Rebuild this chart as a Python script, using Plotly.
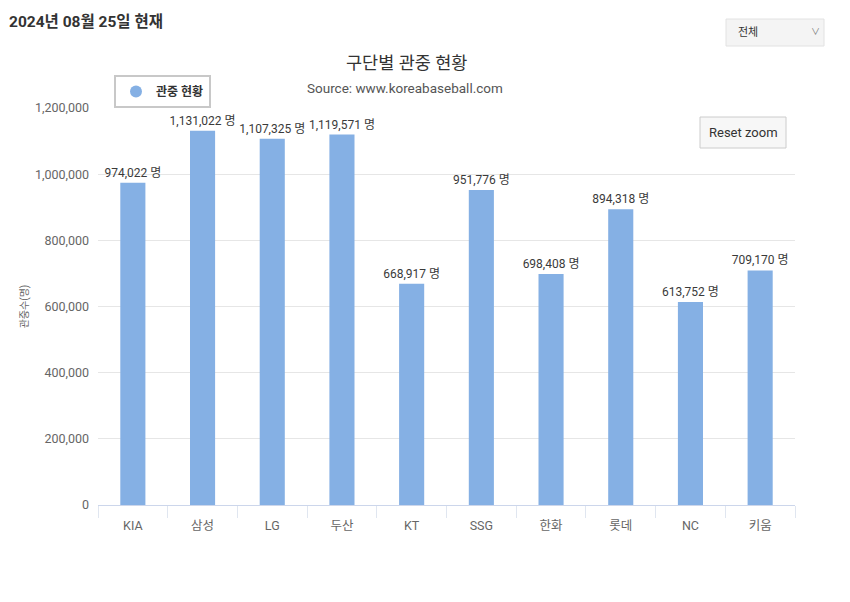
import plotly.graph_objects as go

teams = ["KIA", "삼성", "LG", "두산", "KT", "SSG", "한화", "롯데", "NC", "키움"]
attendance = [974022, 1131022, 1107325, 1119571, 668917, 951776, 698408, 894318, 613752, 709170]
y_ticks = [0, 200000, 400000, 600000, 800000, 1000000, 1200000]
y_tick_labels = ["0", "200,000", "400,000", "600,000", "800,000", "1,000,000", "1,200,000"]
series_name = "관중 현황"

# page has an 8px body margin; figure coordinates are page coordinates minus 8
OFF = 8
W, H = 850 - OFF, 602 - OFF
L, R, T, B = 98 - OFF, 795 - OFF, 108 - OFF, 505 - OFF
KFONT = "Roboto, Noto Sans CJK KR"


def px(x):
    return (x - OFF - L) / (R - L)


def py(y):
    return (B - (y - OFF)) / (B - T)


labels = [f"{v:,} 명" for v in attendance]

fig = go.Figure()
fig.add_trace(go.Bar(
    x=teams, y=attendance, width=0.36,
    marker=dict(color="#85b0e4", line=dict(width=0)),
    text=labels, textposition="outside", cliponaxis=False, constraintext="none",
    textfont=dict(family=KFONT, size=12, color="#3a3a3a"),
    showlegend=False, hoverinfo="x+y",
))
fig.add_trace(go.Scatter(
    x=[None], y=[None], mode="markers", name=series_name,
    marker=dict(color="#85b0e4", size=11, symbol="circle"),
    showlegend=True,
))

shapes = [
    dict(type="rect", xref="paper", yref="paper", x0=px(726), x1=px(824), y0=py(46), y1=py(19),
         fillcolor="#f4f4f4", line=dict(color="#e2e2e2", width=1), layer="below"),
    dict(type="rect", xref="paper", yref="paper", x0=px(700), x1=px(786), y0=py(148), y1=py(117),
         fillcolor="#f7f7f7", line=dict(color="#cccccc", width=1)),
]

annotations = [
    dict(text="<b>2024년 08월 25일 현재</b>", xref="paper", yref="paper", x=px(7), y=py(22),
         xanchor="left", yanchor="middle", showarrow=False,
         font=dict(family=KFONT, size=15.5, color="#333333")),
    dict(text="전체", xref="paper", yref="paper", x=px(736), y=py(32),
         xanchor="left", yanchor="middle", showarrow=False,
         font=dict(family=KFONT, size=11, color="#333333")),
    dict(text="∨", xref="paper", yref="paper", x=px(815), y=py(32),
         xanchor="center", yanchor="middle", showarrow=False,
         font=dict(family=KFONT, size=9, color="#777777")),
    dict(text="구단별 관중 현황", xref="paper", yref="paper", x=px(406), y=py(63),
         xanchor="center", yanchor="middle", showarrow=False,
         font=dict(family=KFONT, size=17.5, color="#333333")),
    dict(text="Source: www.koreabaseball.com", xref="paper", yref="paper", x=px(405), y=py(88),
         xanchor="center", yanchor="middle", showarrow=False,
         font=dict(family=KFONT, size=13.5, color="#555555")),
    dict(text="Reset zoom", xref="paper", yref="paper", x=px(743), y=py(133),
         xanchor="center", yanchor="middle", showarrow=False,
         font=dict(family="Roboto", size=13, color="#333333")),
]

fig.update_layout(
    width=W, height=H,
    margin=dict(l=L, r=W - R, t=T, b=H - B, pad=0),
    paper_bgcolor="white", plot_bgcolor="white",
    shapes=shapes, annotations=annotations,
    legend=dict(
        x=px(114), y=py(75), xanchor="left", yanchor="top",
        bordercolor="#c8c8c8", borderwidth=2, bgcolor="white",
        font=dict(family=KFONT, size=12, color="#333333", weight="bold"),
        itemsizing="constant", itemwidth=30,
    ),
    xaxis=dict(
        type="category", showgrid=False, showline=True, linecolor="#ccd6eb", linewidth=1,
        ticks="outside", tickson="boundaries", ticklen=12, tickcolor="#e0e6f0",
        ticklabelstandoff=9,
        tickfont=dict(family=KFONT, size=12.5, color="#666666"), fixedrange=True,
    ),
    yaxis=dict(
        range=[0, 1200000], tickvals=y_ticks, ticktext=y_tick_labels,
        showgrid=True, gridcolor="#e6e6e6", gridwidth=1, zeroline=False, showline=False,
        ticks="", ticklabelstandoff=8,
        tickfont=dict(family=KFONT, size=12.5, color="#666666"),
        title=dict(text="관중수(명)", font=dict(family=KFONT, size=10, color="#666666"), standoff=4),
    ),
)

fig.write_html("out.html")
